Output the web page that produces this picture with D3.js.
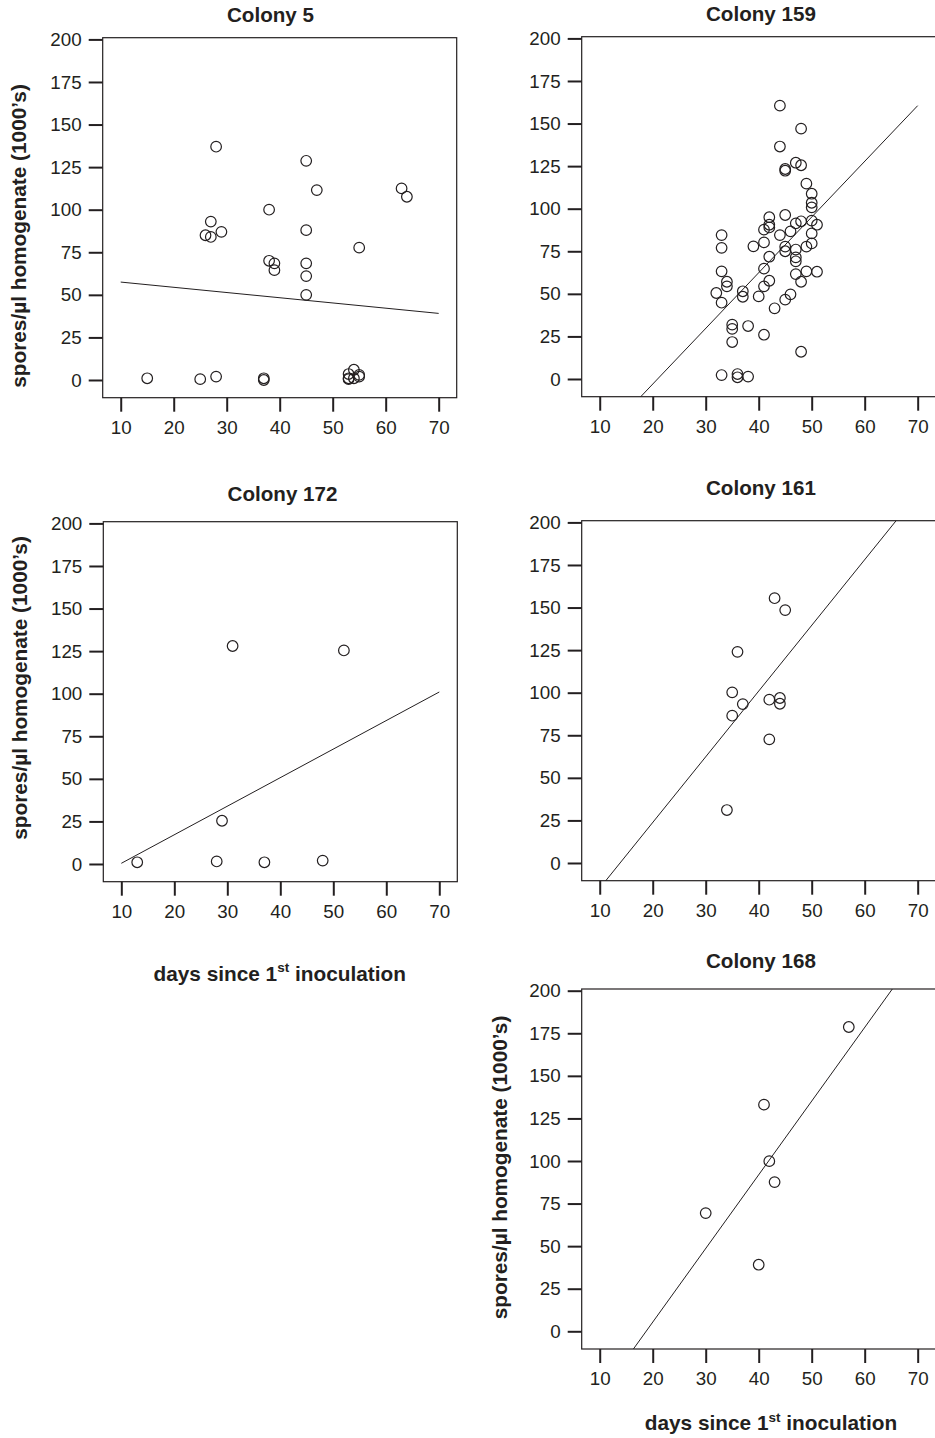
<!DOCTYPE html>
<html>
<head>
<meta charset="utf-8">
<script src="https://cdnjs.cloudflare.com/ajax/libs/d3/7.8.5/d3.min.js"></script>
<style>
  body { margin: 0; background: #fff; }
  svg { display: block; font-family: "Liberation Sans", Arial, sans-serif; }
  .axis text { font-size: 18.8px; fill: #231f20; font-family: "Liberation Sans", Arial, sans-serif; }
  .axis line { stroke: #231f20; stroke-width: 2; }
  .title { font-weight: bold; font-size: 20.6px; fill: #231f20; }
  .label { font-weight: bold; font-size: 20.8px; fill: #231f20; }
</style>
</head>
<body>
<svg id="chart" width="935" height="1438"></svg>
<script>
"use strict";

var colonyNames = ["Colony 5", "Colony 159", "Colony 172", "Colony 161", "Colony 168"];

var days5 = [15, 25, 28, 37, 37, 53, 53, 53, 54, 54, 55, 55, 28, 27, 26, 27, 29, 38, 38, 39, 39, 45, 45, 45, 45, 45, 47, 55, 63, 64];
var spores5 = [1, 0.5, 2, 1, 0, 1, 3.5, 0.5, 6, 1, 3, 2, 137, 93, 85, 84, 87, 100, 70, 68.5, 64.5, 128.7, 88, 68.5, 61, 50, 111.5, 77.7, 112.5, 107.6];

var days159 = [44, 48, 44, 47, 48, 45, 45, 49, 50, 50, 50, 45, 42, 42, 42, 41, 47, 48, 50, 51, 50, 46, 44, 41, 39, 33, 33, 45, 45, 47, 47, 47, 49, 50, 42, 41, 33, 49, 51, 47, 42, 48, 34, 34, 41, 32, 33, 37, 37, 40, 46, 45, 43, 35, 35, 35, 38, 41, 48, 33, 36, 36, 38];
var spores159 = [160.5, 147, 136.5, 127, 125.5, 123.3, 122.3, 114.7, 108.8, 103.5, 100.8, 96.3, 95, 90.6, 89, 87.7, 91.4, 92.6, 93, 90.6, 85.5, 86.7, 84.5, 80.2, 77.9, 84.5, 77, 77.7, 75, 76, 71.4, 69.1, 77.7, 79.6, 71.8, 64.8, 63.2, 63.2, 63, 61.6, 57.7, 57.1, 57.1, 54.4, 54.4, 50.5, 44.8, 51.5, 48.3, 48.5, 49.7, 46.6, 41.5, 31.9, 29.4, 21.7, 31.1, 26, 16, 2.3, 2.9, 1, 1.4];

var days172 = [13, 28, 29, 31, 37, 48, 52];
var spores172 = [1, 1.5, 25.4, 128, 1, 2, 125.4];

var days161 = [43, 45, 36, 35, 37, 35, 42, 44, 44, 42, 34];
var spores161 = [155.5, 148.5, 124, 100.2, 93.3, 86.5, 95.9, 96.9, 93.5, 72.6, 31.1];

var days168 = [57, 41, 42, 43, 30, 40];
var spores168 = [178.7, 133.1, 99.9, 87.6, 69.4, 39.1];

// fitted line, value at day 10 and day 70
var fitAt10 = [57.5, -35.7, 0.4, -14.8, -37.9];
var fitAt70 = [39.1, 160.5, 101, 216.7, 221.7];

var xTicks = [10, 20, 30, 40, 50, 60, 70];
var yTicks = [0, 25, 50, 75, 100, 125, 150, 175, 200];

var yTitle = "spores/\u00b5l homogenate (1000\u2019s)";

var allDays = [days5, days159, days172, days161, days168];
var allSpores = [spores5, spores159, spores172, spores161, spores168];

// frame position of each panel, title offset, y label centre (null = none)
var layout = [
  {left: 102.7, top: 37.7, titleDy: 16.2, ylab: [18.5, 236]},
  {left: 581.7, top: 36.7, titleDy: 16, ylab: null},
  {left: 103.3, top: 521.7, titleDy: 21, ylab: [19.5, 688]},
  {left: 581.7, top: 520.7, titleDy: 25.7, ylab: null},
  {left: 581.7, top: 989, titleDy: 20.7, ylab: [499.5, 1167.5]}
];

var width = 354, height = 360;

var svg = d3.select("#chart");

var x = d3.scaleLinear().domain([6.6, 73.4]).range([0, width]),
  y = d3.scaleLinear().domain([-10.4, 201]).range([height, 0]);

layout.forEach(function(p, i) {
  var g = svg.append("g").attr("transform", "translate(" + p.left + "," + p.top + ")");

  g.append("clipPath").attr("id", "clip" + i)
    .append("rect").attr("width", width).attr("height", height);

  g.append("rect")
    .attr("width", width)
    .attr("height", height)
    .attr("fill", "none")
    .attr("stroke", "#231f20")
    .attr("stroke-width", 1.2);

  g.append("g")
    .attr("class", "axis")
    .call(d3.axisLeft(y).tickValues(yTicks).tickSize(14).tickPadding(7))
    .select(".domain").remove();

  g.append("g")
    .attr("class", "axis")
    .attr("transform", "translate(0," + height + ")")
    .call(d3.axisBottom(x).tickValues(xTicks).tickSize(14).tickPadding(8.5))
    .select(".domain").remove();

  g.append("line")
    .attr("clip-path", "url(#clip" + i + ")")
    .attr("x1", x(10)).attr("y1", y(fitAt10[i]))
    .attr("x2", x(70)).attr("y2", y(fitAt70[i]))
    .attr("stroke", "#231f20")
    .attr("stroke-width", 1);

  var pts = allDays[i].map(function(d, j) { return {day: d, v: allSpores[i][j]}; });

  g.selectAll(".dot")
    .data(pts)
    .enter().append("circle")
    .attr("class", "dot")
    .attr("cx", function(d) { return x(d.day); })
    .attr("cy", function(d) { return y(d.v); })
    .attr("r", 5.3)
    .attr("fill", "none")
    .attr("stroke", "#231f20")
    .attr("stroke-width", 1.2);

  svg.append("text")
    .attr("class", "title")
    .attr("x", p.left + 124.3)
    .attr("y", p.top - p.titleDy)
    .text(colonyNames[i]);

  if (p.ylab) {
    svg.append("text")
      .attr("class", "label")
      .attr("text-anchor", "middle")
      .attr("dy", "0.35em")
      .attr("transform", "translate(" + p.ylab[0] + "," + p.ylab[1] + ") rotate(-90)")
      .text(yTitle);
  }
});

[[279.7, 980.7], [771, 1430]].forEach(function(c) {
  var t = svg.append("text")
    .attr("class", "label")
    .attr("text-anchor", "middle")
    .attr("x", c[0])
    .attr("y", c[1]);
  t.append("tspan").text("days since 1");
  t.append("tspan").attr("font-size", "13.5px").attr("dy", -8.5).text("st");
  t.append("tspan").attr("dy", 8.5).text(" inoculation");
});
</script>
</body>
</html>
